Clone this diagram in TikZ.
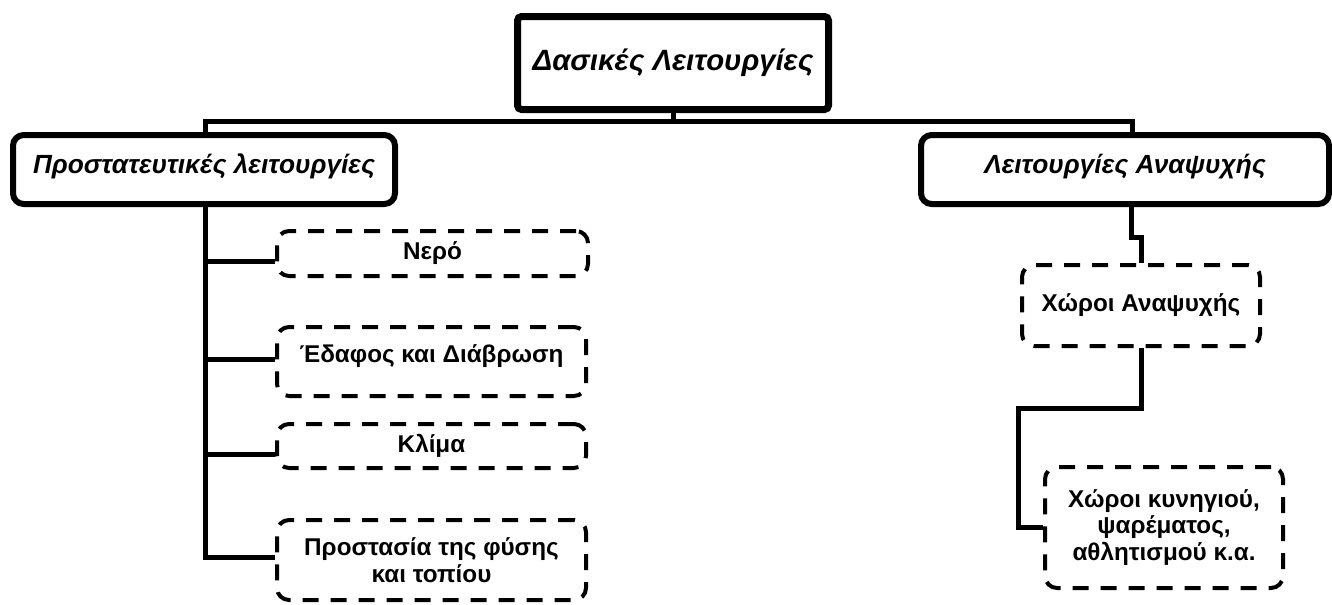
\documentclass[tikz,border=0pt]{standalone}
\usepackage{fontspec}
\setmainfont{Liberation Sans}
\usetikzlibrary{calc}
\begin{document}
\begin{tikzpicture}[x=0.75pt,y=-0.75pt,
  topbox/.style={draw, line width=5.25pt, rounded corners=3pt, inner sep=0pt,
    minimum width=233.25pt, minimum height=69.75pt,
    font=\fontsize{22}{26}\selectfont\bfseries\itshape},
  mainbox/.style={draw, line width=4.5pt, rounded corners=8pt, inner sep=0pt,
    minimum height=51.75pt, text height=15pt, text depth=9.6pt,
    font=\fontsize{19.7}{23}\selectfont\bfseries\itshape},
  subbox/.style={draw, line width=3pt, rounded corners=9pt, inner sep=0pt,
    dash pattern=on 12pt off 9pt, align=center,
    font=\fontsize{18.2}{20}\selectfont\bfseries},
  conn/.style={line width=3.75pt}
]
\useasboundingbox (0,0) rectangle (1332,604);

\node[topbox] (top) at (673,63) {Δασικές Λειτουργίες};
\node[mainbox, minimum width=286.5pt] (prot) at (204,169.5) {Προστατευτικές λειτουργίες};
\node[mainbox, minimum width=306pt] (anap) at (1125,169.5) {Λειτουργίες Αναψυχής};

\node[subbox, minimum width=233.25pt, minimum height=33.75pt] (nero) at (432.5,253.5) {Νερό};
\node[subbox, minimum width=231.75pt, minimum height=51.75pt, text height=12pt, text depth=9.9pt] (edafos) at (431.5,361.5) {Έδαφος και Διάβρωση};
\node[subbox, minimum width=231.75pt, minimum height=33pt] (klima) at (431.5,446) {Κλίμα};
\node[subbox, minimum width=231.75pt, minimum height=60pt] (fysi) at (431.5,560) {Προστασία της φύσης\\και τοπίου};

\node[subbox, minimum width=178.5pt, minimum height=60.75pt] (xoroi) at (1141,305.5) {Χώροι Αναψυχής};
\node[subbox, minimum width=178.5pt, minimum height=90.75pt] (kyn) at (1164,527.5) {Χώροι κυνηγιού,\\ψαρέματος,\\αθλητισμού κ.α.};

\coordinate (busL) at (205,121);
\coordinate (busR) at (1132,121);
\draw[conn] (prot.north -| busL) -- (busL) -- (busR) -- (anap.north -| busR);
\draw[conn] (top.south) -- (top.south |- busL);

\coordinate (c1) at ([yshift=-6pt]nero.west);
\coordinate (c2) at ([yshift=1.5pt]edafos.west);
\coordinate (c3) at ([yshift=-6pt]klima.west);
\coordinate (c4) at ([yshift=2pt]fysi.west);
\draw[conn] (prot.south -| busL) |- (c4);
\draw[conn] (busL |- c1) -- (c1);
\draw[conn] (busL |- c2) -- (c2);
\draw[conn] (busL |- c3) -- (c3);

\coordinate (j) at (1131,237);
\draw[conn] (anap.south -| j) -- (j) -| (xoroi.north);
\coordinate (k) at (1018,408);
\draw[conn] (xoroi.south) |- (k) |- (kyn.west);
\end{tikzpicture}
\end{document}
